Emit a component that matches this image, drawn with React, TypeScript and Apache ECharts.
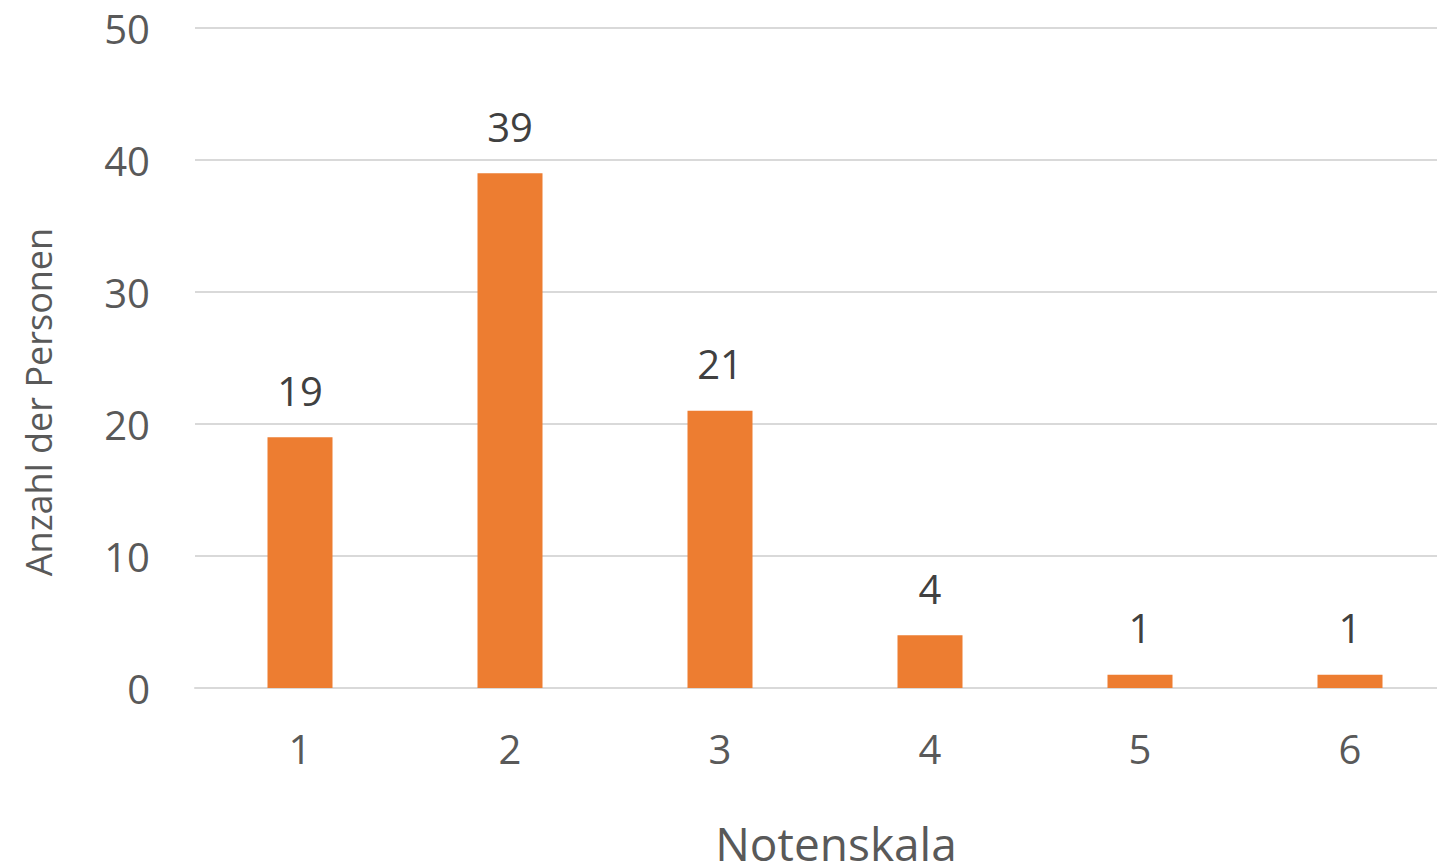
import React, { useEffect, useRef } from "react";
import * as echarts from "echarts";

const categories = ["1", "2", "3", "4", "5", "6"];
const values = [19, 39, 21, 4, 1, 1];
const yMin = 0;
const yMax = 50;
const yInterval = 10;
const xName = "Notenskala";
const yName = "Anzahl der Personen";

export default function App() {
  const ref = useRef<HTMLDivElement>(null);
  useEffect(() => {
    if (!ref.current) return;
    const chart = echarts.init(ref.current, null, { renderer: "svg" });
    const font = "'Open Sans', 'Noto Sans', sans-serif";
    chart.setOption({
      animation: false,
      textStyle: { fontFamily: font },
      grid: { left: 195, right: 0, top: 28, bottom: 179, containLabel: false },
      graphic: [
        {
          type: "text",
          x: 38,
          y: 402,
          rotation: Math.PI / 2,
          style: {
            text: yName,
            fontSize: 36,
            fill: "#595959",
            fontFamily: font,
            align: "center",
            verticalAlign: "middle",
          },
        },
        {
          type: "text",
          x: 836,
          y: 843,
          style: {
            text: xName,
            fontSize: 46,
            fill: "#595959",
            fontFamily: font,
            align: "center",
            verticalAlign: "middle",
          },
        },
      ],
      xAxis: {
        type: "category",
        data: categories,
        axisLine: { show: true, lineStyle: { color: "#d9d9d9", width: 2 } },
        axisTick: { show: false },
        axisLabel: { fontSize: 40, color: "#595959", margin: 40, fontFamily: font },
      },
      yAxis: {
        type: "value",
        min: yMin,
        max: yMax,
        interval: yInterval,
        axisLine: { show: false },
        axisTick: { show: false },
        splitLine: { lineStyle: { color: "#d9d9d9", width: 2 } },
        axisLabel: { fontSize: 40, color: "#595959", margin: 45, fontFamily: font },
      },
      series: [
        {
          type: "bar",
          data: values,
          barWidth: 65,
          itemStyle: { color: "#ED7D31" },
          label: {
            show: true,
            position: "top",
            distance: 27,
            fontSize: 40,
            color: "#404040",
            fontFamily: font,
          },
        },
      ],
    });
    return () => chart.dispose();
  }, []);
  return (
    <div
      style={{
        position: "fixed",
        left: 0,
        top: 0,
        width: 1437,
        height: 867,
        overflow: "hidden",
        background: "#fff",
      }}
    >
      <div ref={ref} style={{ width: 1455, height: 867 }} />
    </div>
  );
}
